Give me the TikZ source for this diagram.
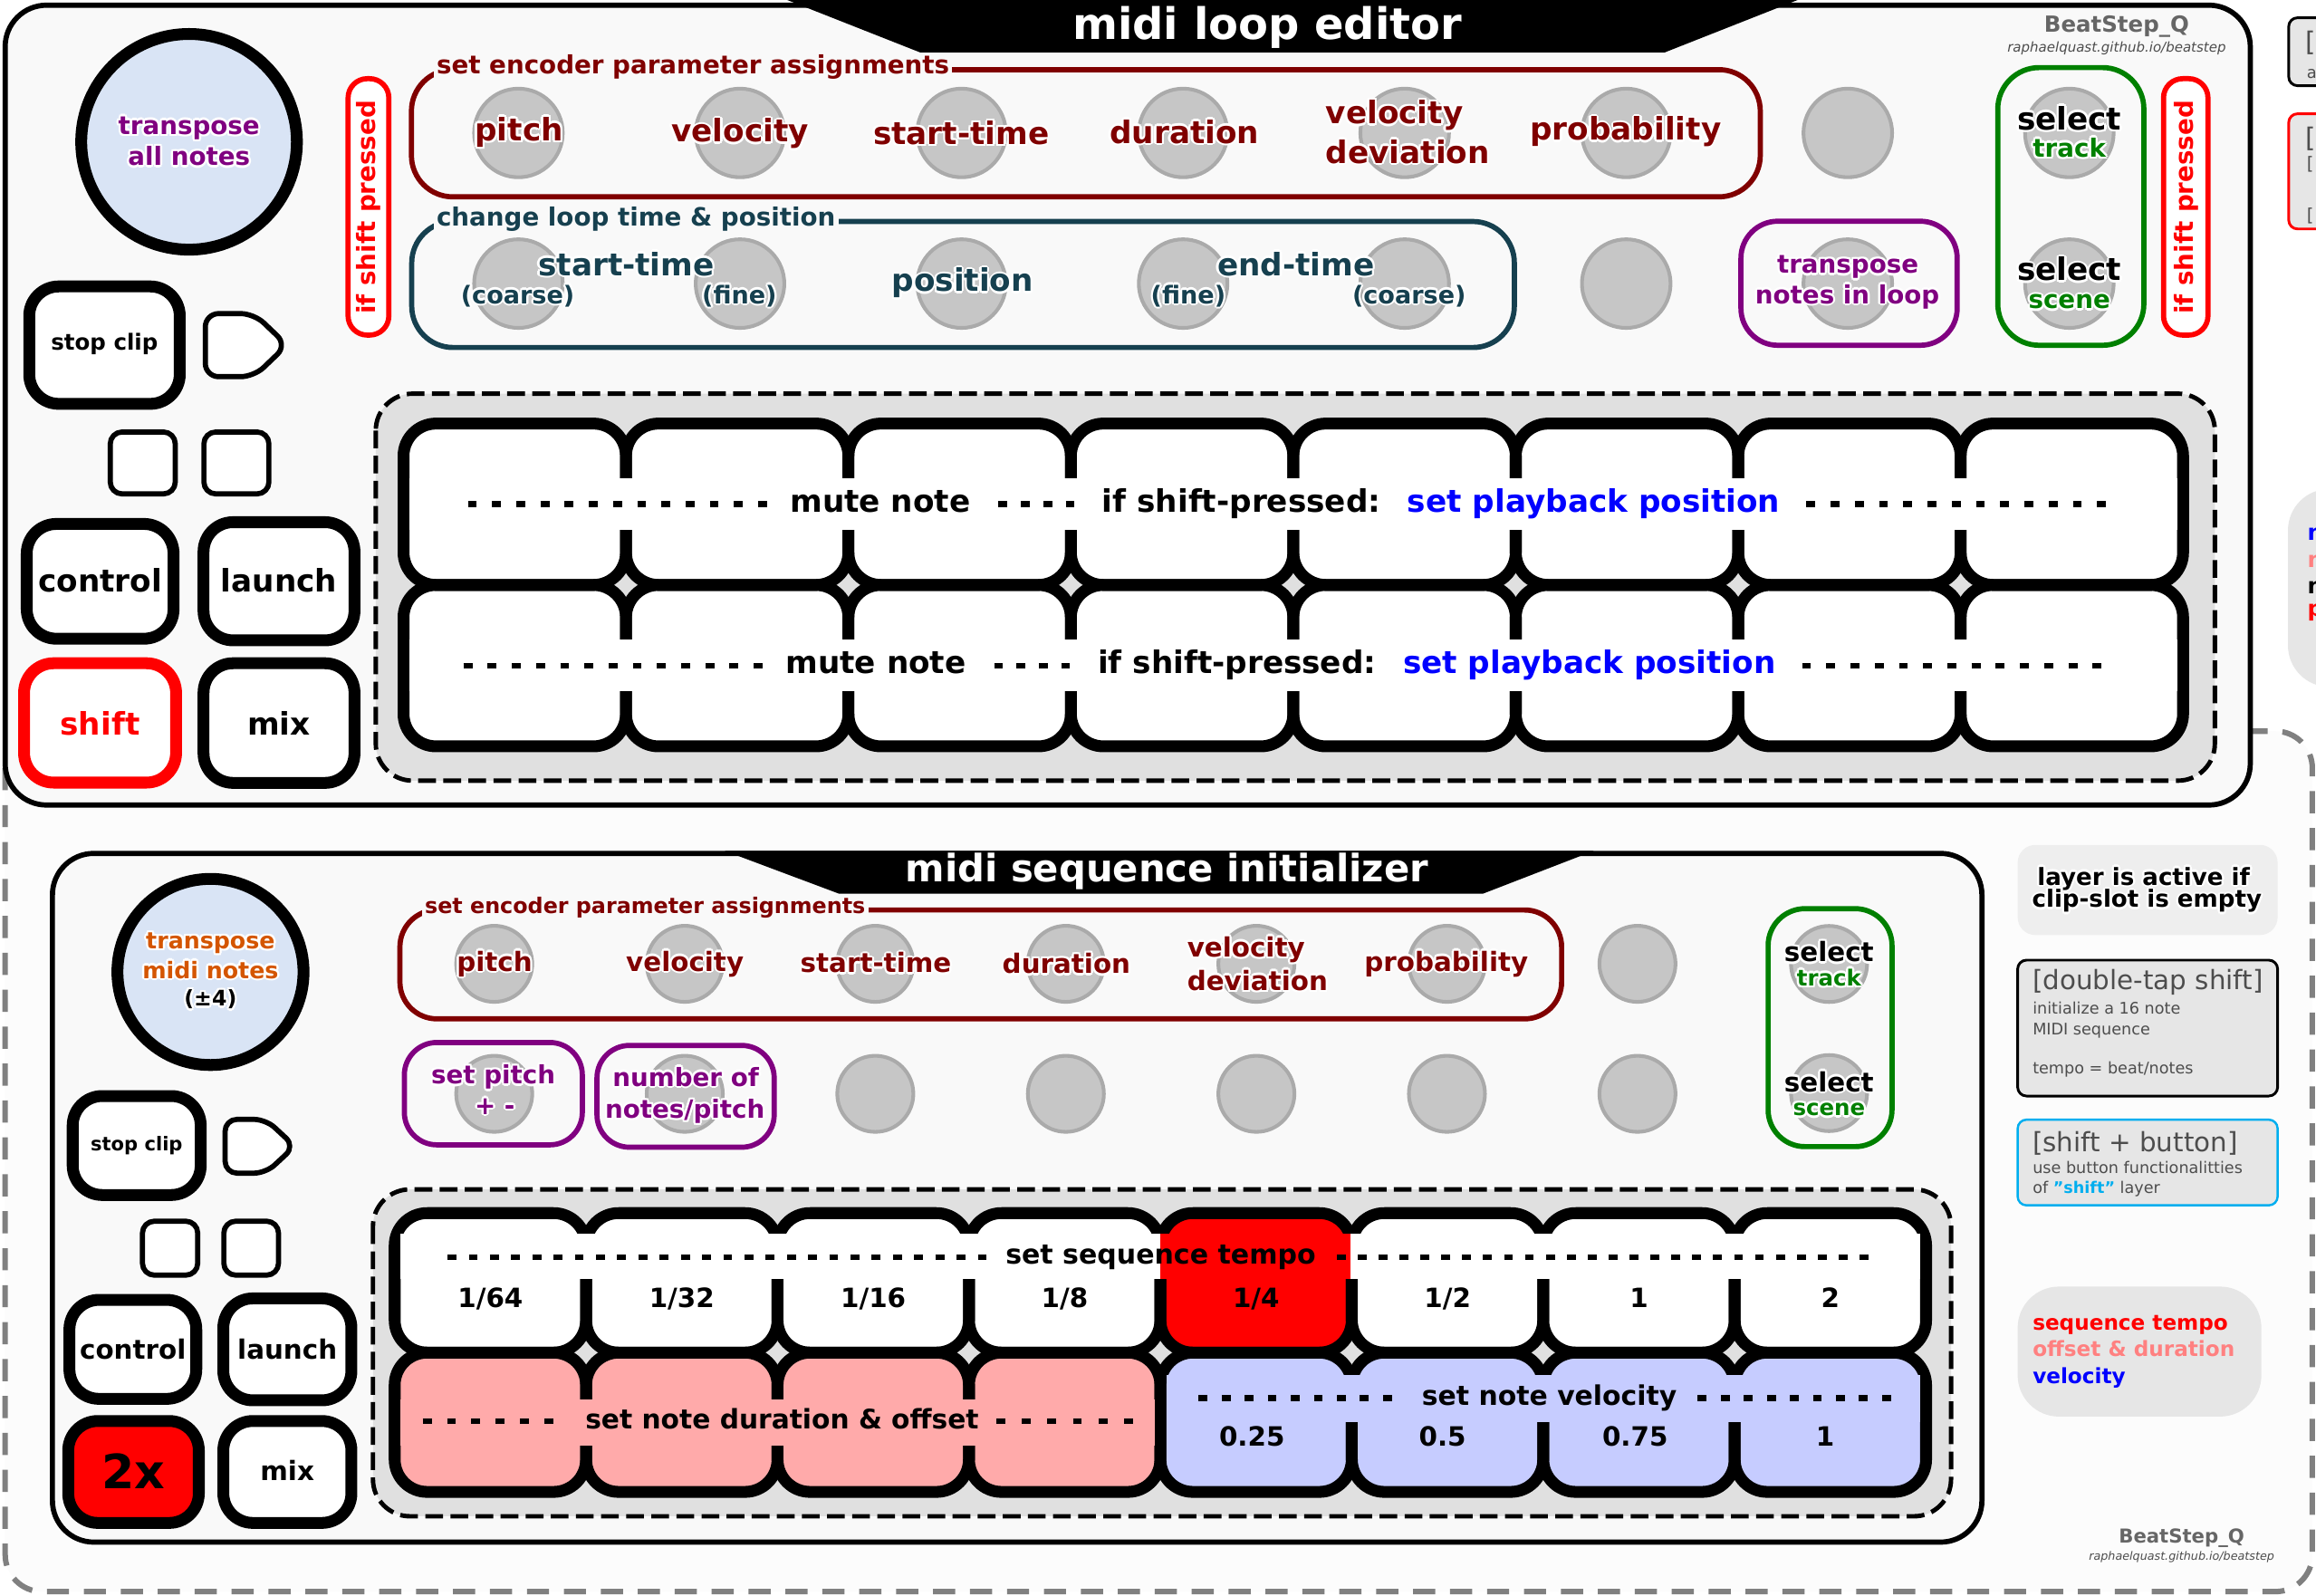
\documentclass[tikz,border=0pt]{standalone}
\usepackage{fontspec}
\setmainfont{DejaVu Sans}
\usetikzlibrary{calc}
\definecolor{dred}{HTML}{800000}
\definecolor{teal2}{HTML}{16404F}
\definecolor{purp}{HTML}{800080}
\definecolor{orng}{HTML}{D45500}
\definecolor{grn}{HTML}{008000}
\definecolor{panelc}{HTML}{F9F9F9}
\definecolor{padbg}{HTML}{E0E0E0}
\definecolor{encfill}{HTML}{C6C6C6}
\definecolor{encline}{HTML}{AAAAAA}
\definecolor{lblue}{HTML}{D9E4F5}
\definecolor{pinkpad}{HTML}{FFAAAA}
\definecolor{bluepad}{HTML}{C6CCFF}
\definecolor{boxgray}{HTML}{E6E6E6}
\definecolor{boxgray2}{HTML}{EEEEEE}
\definecolor{dgray}{HTML}{4D4D4D}
\definecolor{logogray}{HTML}{666666}
\definecolor{cyan2}{HTML}{00AEEF}
\definecolor{pinktxt}{HTML}{FF8080}
\definecolor{framegray}{HTML}{808080}
\definecolor{framefill}{HTML}{FCFCFC}
\newsavebox\halobox
\newcommand\hl[1]{\sbox\halobox{\color{white}#1}%
\leavevmode
\rlap{\kern-1.5pt\usebox\halobox}%
\rlap{\kern1.5pt\usebox\halobox}%
\rlap{\raisebox{1.5pt}{\usebox\halobox}}%
\rlap{\raisebox{-1.5pt}{\usebox\halobox}}%
\rlap{\kern-1.06pt\raisebox{1.06pt}{\usebox\halobox}}%
\rlap{\kern1.06pt\raisebox{1.06pt}{\usebox\halobox}}%
\rlap{\kern-1.06pt\raisebox{-1.06pt}{\usebox\halobox}}%
\rlap{\kern1.06pt\raisebox{-1.06pt}{\usebox\halobox}}%
#1}
\newcommand\tx[1]{\fontsize{#1}{#1}\selectfont}
\begin{document}
\begin{tikzpicture}[x=1pt,y=-1pt,line join=round,
  L/.style={anchor=base,inner sep=0pt,font=\bfseries\tx{#1}},
  LW/.style={anchor=base west,inner sep=0pt,font=\bfseries\tx{#1}},
  NW/.style={anchor=base west,inner sep=0pt,font=\tx{#1}},
  btn/.style={draw=black,line width=8pt,fill=white,rounded corners=20pt},
  sbtn/.style={draw=black,line width=3.5pt,fill=white,rounded corners=8pt},
  enc/.style={fill=encfill,draw=encline,line width=2.5pt},
  grp/.style={line width=3.5pt,rounded corners=28pt},
  padln/.style={line width=8pt,rounded corners=22pt},
  dl/.style={line width=4pt,dash pattern=on 6pt off #1},
  padpanel/.style={draw=black,line width=3pt,fill=padbg,rounded corners=25pt,dash pattern=on 12pt off 5pt},
  grplbl/.style={anchor=base west,inner xsep=2pt,inner ysep=1pt,fill=panelc,font=\bfseries\tx{#1}},
]
\useasboundingbox (0,0) rectangle (1568,1080);
\fill[white] (0,0) rectangle (1568,1080);

% ---------- partially visible boxes at the right edge
\draw[fill=boxgray,line width=1.8pt,rounded corners=6pt] (1549.5,12) rectangle (1640,58);
\node[NW=18,text=dgray] (pb1a) at (1561,34.7) {[};
\node[NW=11,text=dgray] (pb1b) at (1561.5,52.8) {a};
\draw[red,fill=boxgray,line width=1.8pt,rounded corners=6pt] (1549.5,77) rectangle (1640,155);
\node[NW=18,text=dgray] (pb2a) at (1561,99.8) {[};
\node[NW=12,text=dgray] (pb2b) at (1561.5,114.8) {[};
\node[NW=12,text=dgray] (pb2c) at (1561.5,150) {[};
\fill[boxgray,rounded corners=28pt] (1549,331) rectangle (1660,465);
\node[LW=15,text=blue] (pb3a) at (1562,366) {n};
\node[LW=15,text=pinktxt] (pb3b) at (1562,384) {n};
\node[LW=15,text=black] (pb3c) at (1562,402) {n};
\node[LW=15,text=red] (pb3d) at (1562,417) {p};

% ---------- dashed frame of the lower layer
\draw[framegray,fill=framefill,line width=3.7pt,dash pattern=on 15pt off 10pt,rounded corners=25pt] (3.5,495) rectangle (1565.5,1077.5);

% =============== TOP PANEL: midi loop editor
\draw[draw=black,line width=3.5pt,fill=panelc,rounded corners=28pt] (3.5,3.5) rectangle (1523.5,545);
\fill[black] (533,0) -- (1217,0) -- (1127,35.5) -- (623,35.5) -- cycle;
\node[L=29.4,text=white] (title1) at (858,26.5) {midi loop editor};
\node[L=15,text=logogray] (logo1) at (1433,22) {BeatStep\_Q};
\node[anchor=base,inner sep=0pt,font=\itshape\tx{9.2},text=dgray] (url1) at (1433,35.2) {raphaelquast.github.io/beatstep};

% big circle
\draw[line width=8pt,fill=lblue] (128,96) circle (73);
\node[L=17,text=purp] (c1a) at (128,91) {\hl{transpose}};
\node[L=17,text=purp] (c1b) at (128,112) {\hl{all notes}};

% left buttons
\draw[btn] (19.8,193.9) rectangle (121.7,273.4);
\node[L=15] (b1) at (70.75,237) {stop clip};
\draw[line width=3.5pt,fill=white,rounded corners=9pt] (139,212.3) -- (172,212.3) -- (194.3,233.6) -- (172,255) -- (139,255) -- cycle;
\draw[sbtn] (74.65,292.45) rectangle (118.65,334.35);
\draw[sbtn] (138.05,292.45) rectangle (182.05,334.35);
\draw[btn] (18.1,354.7) rectangle (117.5,432.4);
\node[L=21] (b2) at (67.8,401) {control};
\draw[btn] (137.8,353.5) rectangle (240,433.5);
\node[L=21] (b3) at (188.9,401) {launch};
\draw[btn,draw=red] (16.3,449) rectangle (119.2,529.8);
\node[L=21,text=red] (b4) at (67.75,497.5) {shift};
\draw[btn] (137.8,449) rectangle (240,530);
\node[L=21] (b5) at (188.9,497.5) {mix};

% if shift pressed boxes
\draw[red,line width=3.5pt,fill=white,rounded corners=13pt] (235.65,53.25) rectangle (263.25,226.85);
\node[rotate=90,inner sep=0pt,font=\bfseries\tx{17},text=red] (isp1) at (249.5,140.4) {if shift pressed};
\draw[red,line width=3.5pt,fill=white,rounded corners=13pt] (1464.75,53.25) rectangle (1494.85,226.85);
\node[rotate=90,inner sep=0pt,font=\bfseries\tx{17},text=red] (isp2) at (1480,140.4) {if shift pressed};

% encoder groups
\draw[grp,dred] (278.55,47.15) rectangle (1191.75,133.25);
\node[grplbl=17,text=dred] (g1) at (293.4,50.1) {set encoder parameter assignments};
\draw[grp,teal2] (278.75,149.95) rectangle (1025.25,235.25);
\node[grplbl=17,text=teal2] (g2) at (293.4,153) {change loop time \& position};
\draw[grp,purp,rounded corners=25pt] (1178.65,149.75) rectangle (1325.05,233.75);
\draw[grp,grn] (1352.55,45.75) rectangle (1451.45,233.75);

% encoders
\foreach \xx in {351,501,...,1251} {
  \draw[enc] (\xx,90) circle (30);
  \draw[enc] (\xx,192) circle (30);
}
\draw[enc] (1401,90) circle (30);
\draw[enc] (1401,192) circle (30);

% encoder labels
\node[L=21,text=dred] (e1) at (351.4,95.3) {\hl{pitch}};
\node[L=21,text=dred] (e2) at (501,96.2) {\hl{velocity}};
\node[L=21,text=dred] (e3) at (650.8,97.8) {\hl{start-time}};
\node[L=21,text=dred] (e4) at (802,97) {\hl{duration}};
\node[LW=21,text=dred] (e5a) at (897.4,83.8) {\hl{velocity}};
\node[LW=21,text=dred] (e5b) at (897.4,110.4) {\hl{deviation}};
\node[L=21,text=dred] (e6) at (1100.6,95) {\hl{probability}};
\node[L=21,text=teal2] (f1) at (424,186.5) {\hl{start-time}};
\node[L=16.6,text=teal2] (f1a) at (350.5,205.5) {\hl{(coarse)}};
\node[L=16.6,text=teal2] (f1b) at (500.6,205.5) {\hl{(fine)}};
\node[L=21,text=teal2] (f2) at (651.7,197.3) {\hl{position}};
\node[L=21,text=teal2] (f3) at (877.4,186.5) {\hl{end-time}};
\node[L=16.6,text=teal2] (f3a) at (804.5,205.5) {\hl{(fine)}};
\node[L=16.6,text=teal2] (f3b) at (954,205.5) {\hl{(coarse)}};
\node[L=17,text=purp] (tp1) at (1251,185) {\hl{transpose}};
\node[L=17,text=purp] (tp2) at (1250.7,205.5) {\hl{notes in loop}};
\node[L=21] (s1) at (1401,87.9) {\hl{select}};
\node[L=17,text=grn] (s1b) at (1401,106.3) {\hl{track}};
\node[L=21] (s2) at (1401,190) {\hl{select}};
\node[L=17,text=grn] (s2b) at (1401,209) {\hl{scene}};

% pads
\draw[padpanel] (254.4,266.5) rectangle (1499.5,528.5);
\foreach \ya/\yb in {286.75/396,396/505.25}
  \foreach \i in {0,...,7}
    \fill[white,rounded corners=22pt] ({273.2+150.6*\i},\ya) rectangle ({273.2+150.6*(\i+1)},\yb);
\foreach \ya/\yb in {286.75/396,396/505.25}
  \foreach \i in {0,...,7}
    \draw[padln] ({273.2+150.6*\i},\ya) rectangle ({273.2+150.6*(\i+1)},\yb);
\fill[white] (277.2,323.9) rectangle (1474,358.9);
\fill[white] (277.2,433.1) rectangle (1474,468.1);
\draw[dl=10.375pt] (316.8,341.4) -- (519.3,341.4);
\node[L=21] (m1) at (596,346.7) {mute note};
\draw[dl=9.17pt] (676,341.4) -- (727.5,341.4);
\node[L=21] (m2) at (840.5,346.7) {if shift-pressed:};
\node[L=21,text=blue] (m3) at (1079,346.7) {set playback position};
\draw[dl=10.4pt] (1223,341.4) -- (1426,341.4);
\draw[dl=10.375pt] (313.8,450.6) -- (516.3,450.6);
\node[L=21] (n1) at (593,455.9) {mute note};
\draw[dl=9.17pt] (673,450.6) -- (724.5,450.6);
\node[L=21] (n2) at (837.5,455.9) {if shift-pressed:};
\node[L=21,text=blue] (n3) at (1076,455.9) {set playback position};
\draw[dl=10.4pt] (1220,450.6) -- (1423,450.6);

% =============== BOTTOM PANEL: midi sequence initializer
\draw[draw=black,line width=3.5pt,fill=panelc,rounded corners=28pt] (35.5,577.75) rectangle (1341.8,1044);
\fill[black] (490.6,576) -- (1079,576) -- (1004,605) -- (568,605) -- cycle;
\node[L=25.6,text=white] (title2) at (790,597) {midi sequence initializer};

\draw[line width=8pt,fill=lblue] (142.5,658) circle (63);
\node[L=15.5,text=orng] (c2a) at (142.5,642.3) {\hl{transpose}};
\node[L=15.5,text=orng] (c2b) at (142.5,662.3) {\hl{midi notes}};
\node[L=14.5] (c2c) at (142.5,681) {\hl{(±4)}};

\draw[btn] (49.2,742) rectangle (135.9,809);
\node[L=12.9] (d1) at (92.5,779) {stop clip};
\draw[line width=3.5pt,fill=white,rounded corners=8pt] (152.4,757.8) -- (180,757.8) -- (199.6,776) -- (180,794.2) -- (152.4,794.2) -- cycle;
\draw[sbtn] (96.45,826.75) rectangle (133.85,863.25);
\draw[sbtn] (151.55,826.75) rectangle (188.55,863.25);
\draw[btn] (47,880) rectangle (132.9,947);
\node[L=18] (d2) at (90,920) {control};
\draw[btn] (151.2,879) rectangle (237.9,948);
\node[L=18] (d3) at (194.5,920) {launch};
\draw[btn,fill=red] (46.2,962) rectangle (134.6,1031);
\node[L=32] (d4) at (90.4,1008) {2x};
\draw[btn] (151.2,962) rectangle (237.9,1031);
\node[L=18] (d5) at (194.5,1002.5) {mix};

\draw[grp,dred,rounded corners=25pt] (270.75,616.05) rectangle (1057.25,689.75);
\node[grplbl=14.6,text=dred] (g3) at (285.5,618.4) {set encoder parameter assignments};
\draw[grp,purp,rounded corners=22pt] (273.75,705.75) rectangle (394.25,775.05);
\draw[grp,purp,rounded corners=22pt] (404.15,707.75) rectangle (524.15,776.65);
\draw[grp,grn,rounded corners=25pt] (1197.05,615.15) rectangle (1280.95,776.25);

\foreach \k in {0,...,6} {
  \draw[enc] ({334.6+129*\k},652.5) circle (25.75);
  \draw[enc] ({334.6+129*\k},740.5) circle (25.75);
}
\draw[enc] (1238.3,652.6) circle (25.75);
\draw[enc] (1238.3,740) circle (25.75);

\node[L=18,text=dred] (h1) at (334.8,657.4) {\hl{pitch}};
\node[L=18,text=dred] (h2) at (463.7,657.4) {\hl{velocity}};
\node[L=18,text=dred] (h3) at (593,658.5) {\hl{start-time}};
\node[L=18,text=dred] (h4) at (722,659) {\hl{duration}};
\node[LW=18,text=dred] (h5a) at (803.6,647.8) {\hl{velocity}};
\node[LW=18,text=dred] (h5b) at (803.6,670.5) {\hl{deviation}};
\node[L=18,text=dred] (h6) at (979.2,657.4) {\hl{probability}};
\node[L=17,text=purp] (p1a) at (334,733.8) {\hl{set pitch}};
\node[L=17,text=purp] (p1b) at (335,754.3) {\hl{+ -}};
\node[L=17,text=purp] (p2a) at (464.3,735.4) {\hl{number of}};
\node[L=17,text=purp] (p2b) at (463.7,757) {\hl{notes/pitch}};
\node[L=18] (u1) at (1238.3,651) {\hl{select}};
\node[L=15,text=grn] (u1b) at (1238.3,667.4) {\hl{track}};
\node[L=18] (u2) at (1238.3,739) {\hl{select}};
\node[L=15,text=grn] (u2b) at (1238.3,755.3) {\hl{scene}};

% pads
\draw[padpanel] (252.5,805.2) rectangle (1320.9,1026.5);
\foreach \i/\c in {0/white,1/white,2/white,3/white,4/red,5/white,6/white,7/white}
  \fill[\c,rounded corners=22pt] ({267.2+129.6*\i},821.25) rectangle ({267.2+129.6*(\i+1)},915.7);
\foreach \i/\c in {0/pinkpad,1/pinkpad,2/pinkpad,3/pinkpad,4/bluepad,5/bluepad,6/bluepad,7/bluepad}
  \fill[\c,rounded corners=22pt] ({267.2+129.6*\i},915.7) rectangle ({267.2+129.6*(\i+1)},1010);
\foreach \ya/\yb in {821.25/915.7,915.7/1010}
  \foreach \i in {0,...,7}
    \draw[padln] ({267.2+129.6*\i},\ya) rectangle ({267.2+129.6*(\i+1)},\yb);
\fill[white] (271.2,835) rectangle (1300,866);
\fill[red] (785.6,835) rectangle (914,866);
\fill[pinkpad] (271.2,947.5) rectangle (781.6,978.5);
\fill[bluepad] (789.6,931) rectangle (1300,963);

\draw[dl=8.36pt] (303,851) -- (668,851);
\node[L=18.4] (q1) at (785.8,856) {set sequence tempo};
\draw[dl=8.16pt] (905,851) -- (1265,851);
\foreach \i/\t in {0/1\slash 64,1/1\slash 32,2/1\slash 16,3/1\slash 8,4/1\slash 4,5/1\slash 2,6/1,7/2}
  \node[L=18] at ({267.2+129.6*\i+64.8},885.2) {\t};
\draw[dl=10.44pt] (286.2,962) -- (374.4,962);
\node[L=18.2] (q2) at (529.5,967.4) {set note duration \& offset};
\draw[dl=11.28pt] (674.6,962) -- (767,962);
\draw[dl=9.6pt] (811.5,946.6) -- (942.3,946.6);
\node[L=18.3] (q3) at (1049,951.3) {set note velocity};
\draw[dl=9.6pt] (1149.4,946.6) -- (1281.4,946.6);
\node[L=18] (v1) at (847.6,979) {0.25};
\node[L=18] (v2) at (976.6,979) {0.5};
\node[L=18] (v3) at (1107,979) {0.75};
\node[L=18] (v4) at (1235.6,979) {1};

% =============== right info boxes
\fill[boxgray2,rounded corners=12pt] (1366,572) rectangle (1542,633);
\node[L=16] (i1a) at (1451.3,599.2) {\hl{layer is active if}};
\node[L=16] (i1b) at (1453.5,614.4) {\hl{clip-slot is empty}};

\draw[fill=boxgray,line width=1.8pt,rounded corners=6pt] (1366,650) rectangle (1542,742);
\node[NW=18,text=dgray] (i2a) at (1376,670) {[double-tap shift]};
\node[NW=10.8,text=dgray] (i2b) at (1376,686.2) {initialize a 16 note};
\node[NW=10.8,text=dgray] (i2c) at (1376,700.3) {MIDI sequence};
\node[NW=10.8,text=dgray] (i2d) at (1376,727.2) {tempo = beat/notes};

\draw[cyan2,fill=boxgray,line width=1.5pt,rounded corners=6pt] (1366,758) rectangle (1542,816);
\node[NW=18,text=dgray] (i3a) at (1376,779.5) {[shift + button]};
\node[NW=10.8,text=dgray] (i3b) at (1376,794.5) {use button functionalitties};
\node[NW=10.8,text=dgray] (i3c) at (1376,808) {of {\bfseries\color{cyan2}"shift"} layer};

\fill[boxgray,rounded corners=28pt] (1366,871) rectangle (1531,959);
\node[LW=14.2,text=red] (lg1) at (1376,900.5) {sequence tempo};
\node[LW=14.2,text=pinktxt] (lg2) at (1376,918.4) {offset \& duration};
\node[LW=14.2,text=blue] (lg3) at (1376,936.6) {velocity};

\node[L=13,text=logogray] (logo2) at (1477,1044.3) {BeatStep\_Q};
\node[anchor=base,inner sep=0pt,font=\itshape\tx{7.8},text=dgray] (url2) at (1477,1056) {raphaelquast.github.io/beatstep};
\end{tikzpicture}
\end{document}
